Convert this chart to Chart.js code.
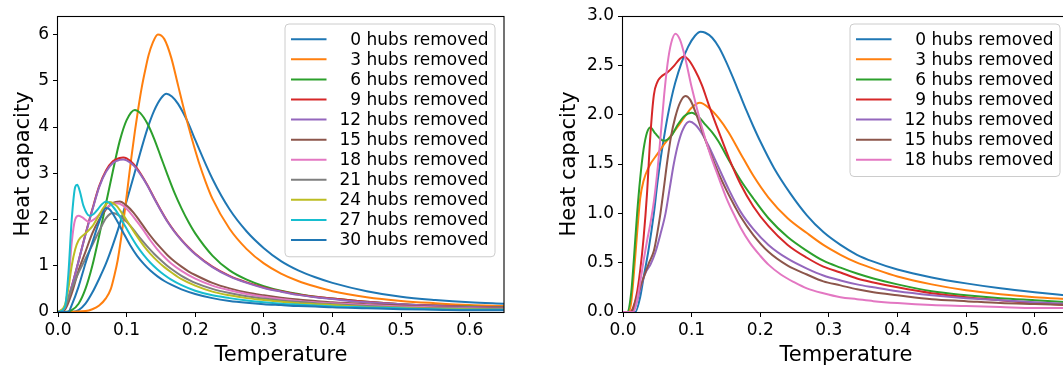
<!DOCTYPE html>
<html>
<head>
<meta charset="utf-8">
<script src="https://cdn.jsdelivr.net/npm/chart.js@4/dist/chart.umd.min.js"></script>
<style>
html, body { margin: 0; padding: 0; background: #fff; overflow: hidden; width: 1063px; height: 365px; }
canvas { position: absolute; top: 0; }
#c1 { left: 0; }
#c2 { left: 540px; }
</style>
</head>
<body>
<canvas id="c1" width="530" height="365"></canvas>
<canvas id="c2" width="540" height="365"></canvas>
<script>
// ---------- Tick labels / axis ----------
const X_TICK_STEP = 0.1;
const X_MAX = 0.65;
const LEFT_Y_MAX = 6.4;
const RIGHT_Y_MAX = 3.0;
const X_TITLE = 'Temperature';
const Y_TITLE = 'Heat capacity';

// ---------- Left panel: series labels ----------
const leftLabels = ['0 hubs removed','3 hubs removed','6 hubs removed','9 hubs removed','12 hubs removed','15 hubs removed','18 hubs removed','21 hubs removed','24 hubs removed','27 hubs removed','30 hubs removed'];

// ---------- Left panel: data (temperature, heat capacity) ----------
const L0_T = [0,0.02,0.03,0.04,0.05,0.06,0.07,0.08,0.09,0.1,0.11,0.12,0.13,0.14,0.15,0.158,0.166,0.175,0.19,0.2,0.225,0.25,0.275,0.3,0.325,0.35,0.375,0.4,0.45,0.5,0.55,0.6,0.65];
const L0_C = [0,0,0.04,0.18,0.42,0.72,1.05,1.45,1.9,2.4,2.92,3.45,3.95,4.35,4.62,4.72,4.66,4.5,4.08,3.72,2.88,2.22,1.74,1.38,1.1,0.9,0.75,0.63,0.45,0.33,0.26,0.21,0.18];

const L3_T = [0,0.04,0.05,0.06,0.07,0.077,0.082,0.087,0.092,0.097,0.102,0.107,0.112,0.117,0.122,0.127,0.132,0.138,0.1456,0.155,0.165,0.175,0.185,0.195,0.205,0.215,0.225,0.25,0.275,0.3,0.325,0.35,0.375,0.4,0.45,0.5,0.55,0.6,0.65];
const L3_C = [0,0.02,0.06,0.14,0.3,0.5,0.78,1.12,1.6,2.15,2.75,3.35,3.9,4.4,4.85,5.22,5.55,5.82,6.0,5.9,5.5,4.9,4.3,3.75,3.25,2.82,2.45,1.8,1.36,1.05,0.83,0.67,0.55,0.45,0.32,0.24,0.19,0.15,0.13];

const L6_T = [0,0.01,0.02,0.03,0.04,0.05,0.06,0.07,0.08,0.09,0.1,0.112,0.12,0.13,0.14,0.15,0.16,0.17,0.18,0.19,0.2,0.225,0.25,0.275,0.3,0.325,0.35,0.375,0.4,0.45,0.5,0.55,0.6,0.65];
const L6_C = [0,0,0.04,0.18,0.5,1.0,1.65,2.35,3.05,3.7,4.15,4.37,4.3,4.08,3.75,3.35,2.95,2.57,2.24,1.95,1.7,1.22,0.9,0.7,0.56,0.46,0.39,0.33,0.29,0.22,0.17,0.14,0.12,0.1];

const L9_T = [0,0.005,0.01,0.02,0.03,0.04,0.05,0.06,0.07,0.08,0.09,0.095,0.1,0.11,0.12,0.13,0.14,0.15,0.16,0.17,0.18,0.19,0.2,0.225,0.25,0.275,0.3,0.325,0.35,0.375,0.4,0.45,0.5,0.55,0.6,0.65];
const L9_C = [0,0,0.08,0.55,1.1,1.68,2.22,2.72,3.06,3.26,3.33,3.34,3.32,3.2,3.0,2.75,2.47,2.2,1.95,1.74,1.56,1.4,1.26,0.98,0.78,0.64,0.53,0.45,0.38,0.33,0.29,0.22,0.17,0.14,0.11,0.09];

const L12_T = [0,0.005,0.01,0.02,0.03,0.04,0.05,0.06,0.07,0.08,0.09,0.095,0.1,0.11,0.12,0.13,0.14,0.15,0.16,0.17,0.18,0.19,0.2,0.225,0.25,0.275,0.3,0.325,0.35,0.375,0.4,0.45,0.5,0.55,0.6,0.65];
const L12_C = [0,0,0.08,0.55,1.1,1.67,2.2,2.7,3.03,3.22,3.29,3.3,3.28,3.17,2.98,2.74,2.46,2.19,1.94,1.73,1.55,1.39,1.25,0.97,0.77,0.63,0.52,0.44,0.37,0.32,0.28,0.21,0.17,0.13,0.11,0.09];

const L15_T = [0,0.01,0.02,0.03,0.04,0.05,0.06,0.07,0.08,0.09,0.1,0.11,0.12,0.13,0.14,0.15,0.16,0.17,0.18,0.19,0.2,0.225,0.25,0.275,0.3,0.325,0.35,0.375,0.4,0.45,0.5,0.55,0.6,0.65];
const L15_C = [0,0.05,0.4,0.9,1.3,1.7,2.0,2.22,2.36,2.39,2.3,2.15,1.95,1.74,1.55,1.38,1.22,1.09,0.98,0.88,0.8,0.63,0.51,0.42,0.36,0.31,0.27,0.24,0.21,0.17,0.14,0.11,0.09,0.08];

const L18_T = [0,0.01,0.015,0.02,0.025,0.03,0.035,0.045,0.055,0.065,0.075,0.085,0.095,0.105,0.115,0.125,0.135,0.145,0.155,0.165,0.18,0.2,0.225,0.25,0.275,0.3,0.325,0.35,0.375,0.4,0.45,0.5,0.55,0.6,0.65];
const L18_C = [0,0.1,0.6,1.5,2.0,2.08,2.05,1.95,2.03,2.18,2.3,2.35,2.3,2.15,1.96,1.76,1.54,1.35,1.19,1.05,0.89,0.72,0.57,0.47,0.39,0.33,0.28,0.24,0.21,0.19,0.15,0.12,0.1,0.08,0.07];

const L21_T = [0,0.01,0.02,0.03,0.04,0.05,0.06,0.07,0.08,0.09,0.1,0.11,0.12,0.13,0.14,0.15,0.16,0.17,0.18,0.19,0.2,0.225,0.25,0.275,0.3,0.325,0.35,0.375,0.4,0.45,0.5,0.55,0.6,0.65];
const L21_C = [0,0.1,0.5,0.85,1.15,1.45,1.75,2.03,2.14,2.08,1.95,1.78,1.59,1.42,1.26,1.12,0.99,0.88,0.78,0.7,0.63,0.5,0.41,0.34,0.29,0.25,0.22,0.19,0.17,0.13,0.1,0.08,0.07,0.06];

const L24_T = [0,0.01,0.015,0.02,0.025,0.03,0.04,0.05,0.06,0.07,0.075,0.085,0.095,0.105,0.115,0.125,0.135,0.145,0.155,0.165,0.18,0.2,0.225,0.25,0.275,0.3,0.325,0.35,0.375,0.4,0.45,0.5,0.55,0.6,0.65];
const L24_C = [0,0.15,0.5,1.0,1.35,1.55,1.7,1.85,2.1,2.33,2.38,2.3,2.1,1.87,1.64,1.43,1.25,1.1,0.97,0.86,0.71,0.57,0.44,0.36,0.3,0.26,0.22,0.19,0.17,0.15,0.11,0.09,0.07,0.06,0.05];

const L27_T = [0,0.01,0.015,0.02,0.025,0.028,0.032,0.037,0.046,0.052,0.058,0.064,0.07,0.075,0.085,0.095,0.105,0.115,0.125,0.135,0.145,0.155,0.165,0.18,0.2,0.225,0.25,0.275,0.3,0.325,0.35,0.375,0.4,0.45,0.5,0.55,0.6,0.65];
const L27_C = [0,0.1,0.8,2.0,2.7,2.75,2.6,2.3,2.08,2.12,2.22,2.33,2.39,2.36,2.18,1.93,1.67,1.43,1.23,1.06,0.92,0.8,0.7,0.58,0.46,0.36,0.3,0.25,0.21,0.18,0.16,0.14,0.12,0.1,0.08,0.06,0.05,0.05];

const L30_T = [0,0.015,0.02,0.03,0.04,0.05,0.06,0.07,0.075,0.085,0.095,0.105,0.115,0.125,0.135,0.145,0.155,0.165,0.18,0.2,0.225,0.25,0.275,0.3,0.325,0.35,0.375,0.4,0.45,0.5,0.55,0.6,0.65];
const L30_C = [0,0,0.15,0.55,1.05,1.5,1.95,2.25,2.22,2.0,1.72,1.45,1.22,1.04,0.89,0.77,0.67,0.59,0.49,0.39,0.3,0.24,0.2,0.17,0.15,0.13,0.12,0.1,0.08,0.06,0.05,0.04,0.04];

// ---------- Right panel: series labels ----------
const rightLabels = ['0 hubs removed','3 hubs removed','6 hubs removed','9 hubs removed','12 hubs removed','15 hubs removed','18 hubs removed'];

// ---------- Right panel: data ----------
const R0_T = [0,0.018,0.025,0.03,0.037,0.045,0.05,0.055,0.06,0.065,0.07,0.076,0.086,0.095,0.105,0.113,0.12,0.13,0.14,0.15,0.16,0.17,0.18,0.19,0.2,0.22,0.244,0.268,0.292,0.317,0.341,0.365,0.4,0.45,0.5,0.55,0.6,0.65];
const R0_C = [0,0,0.15,0.35,0.62,1.0,1.3,1.56,1.78,1.98,2.15,2.32,2.54,2.69,2.8,2.84,2.83,2.78,2.68,2.54,2.38,2.21,2.04,1.88,1.73,1.46,1.2,0.98,0.81,0.68,0.58,0.51,0.43,0.35,0.29,0.24,0.2,0.165];

const R3_T = [0,0.008,0.012,0.016,0.02,0.025,0.03,0.0376,0.05,0.06,0.069,0.08,0.09,0.1,0.112,0.125,0.14,0.154,0.171,0.19,0.212,0.24,0.268,0.292,0.317,0.341,0.365,0.4,0.45,0.5,0.55,0.6,0.65];
const R3_C = [0,0,0.1,0.4,0.75,1.15,1.33,1.47,1.6,1.7,1.78,1.88,1.98,2.07,2.12,2.07,1.96,1.82,1.61,1.38,1.16,0.95,0.8,0.68,0.58,0.5,0.44,0.36,0.28,0.22,0.18,0.15,0.13];

const R6_T = [0,0.006,0.012,0.016,0.0206,0.025,0.03,0.035,0.04,0.047,0.055,0.06,0.07,0.08,0.09,0.1,0.11,0.12,0.13,0.139,0.155,0.171,0.19,0.212,0.24,0.268,0.292,0.317,0.341,0.365,0.4,0.45,0.5,0.55,0.6,0.65];
const R6_C = [0,0,0.2,0.55,1.0,1.35,1.65,1.82,1.87,1.81,1.75,1.735,1.78,1.9,1.99,2.02,1.98,1.9,1.82,1.73,1.53,1.34,1.15,0.95,0.76,0.62,0.52,0.45,0.39,0.34,0.28,0.21,0.17,0.14,0.12,0.1];

const R9_T = [0,0.01,0.015,0.02,0.025,0.03,0.035,0.04,0.045,0.05,0.055,0.065,0.075,0.082,0.0885,0.095,0.105,0.115,0.125,0.14,0.155,0.171,0.19,0.212,0.24,0.268,0.292,0.317,0.341,0.365,0.4,0.45,0.5,0.55,0.6,0.65];
const R9_C = [0,0,0.05,0.18,0.42,0.75,1.2,1.8,2.2,2.33,2.38,2.43,2.5,2.56,2.59,2.56,2.45,2.3,2.1,1.82,1.55,1.3,1.07,0.87,0.68,0.55,0.46,0.4,0.34,0.3,0.25,0.19,0.15,0.12,0.09,0.07];

const R12_T = [0,0.014,0.02,0.027,0.033,0.04,0.047,0.055,0.062,0.068,0.074,0.081,0.088,0.097,0.105,0.115,0.125,0.139,0.155,0.171,0.19,0.212,0.24,0.268,0.292,0.317,0.341,0.365,0.4,0.45,0.5,0.55,0.6,0.65];
const R12_C = [0,0,0.1,0.28,0.4,0.48,0.6,0.8,1.0,1.25,1.5,1.72,1.86,1.93,1.9,1.81,1.68,1.47,1.23,1.02,0.84,0.68,0.54,0.44,0.37,0.32,0.28,0.25,0.21,0.17,0.14,0.12,0.1,0.08];

const R15_T = [0,0.012,0.02,0.03,0.038,0.045,0.05,0.0546,0.06,0.064,0.07,0.076,0.083,0.091,0.098,0.107,0.115,0.125,0.139,0.151,0.163,0.171,0.19,0.212,0.24,0.268,0.292,0.317,0.341,0.365,0.4,0.45,0.5,0.55,0.6,0.65];
const R15_C = [0,0,0.15,0.35,0.5,0.62,0.8,1.0,1.28,1.5,1.78,1.97,2.12,2.19,2.15,2.0,1.84,1.65,1.41,1.23,1.07,0.97,0.78,0.61,0.47,0.38,0.31,0.27,0.23,0.2,0.17,0.13,0.11,0.09,0.08,0.07];

const R18_T = [0,0.015,0.02,0.025,0.03,0.035,0.04,0.045,0.05,0.055,0.06,0.065,0.07,0.0764,0.083,0.0905,0.1,0.1147,0.127,0.139,0.151,0.163,0.171,0.185,0.2,0.212,0.23,0.25,0.268,0.292,0.317,0.341,0.365,0.4,0.45,0.5,0.55,0.6,0.65];
const R18_C = [0,0,0.1,0.3,0.52,0.72,0.9,1.12,1.42,1.8,2.2,2.52,2.72,2.82,2.76,2.58,2.28,1.88,1.6,1.37,1.15,0.97,0.86,0.7,0.57,0.48,0.38,0.3,0.24,0.19,0.15,0.13,0.11,0.09,0.07,0.06,0.05,0.04,0.04];

// ---------- Colours (matplotlib tab10 cycle) ----------
const COLORS = ['#1f77b4','#ff7f0e','#2ca02c','#d62728','#9467bd','#8c564b','#e377c2','#7f7f7f','#bcbd22','#17becf','#1f77b4'];

const FONT = 'DejaVu Sans';

function pts(T, C) { return T.map((t, i) => ({ x: t, y: C[i] })); }

function buildDatasets(labels, series) {
  const n = series.length;
  return series.map((s, i) => ({
    label: labels[i],
    data: pts(s[0], s[1]),
    borderColor: COLORS[i],
    backgroundColor: COLORS[i],
    borderWidth: 2,
    pointRadius: 0,
    fill: false,
    cubicInterpolationMode: 'monotone',
    order: n - i
  }));
}

const framePlugin = {
  id: 'frameAndLegend',
  afterDatasetsDraw(chart) {
    const { ctx, chartArea: a } = chart;
    ctx.save();
    ctx.strokeStyle = '#000';
    ctx.lineWidth = 1.1;
    ctx.strokeRect(Math.round(a.left) - 0.5, Math.round(a.top) + 0.5, Math.round(a.right - a.left) + 0.5, Math.round(a.bottom - a.top));
    ctx.restore();
  },
  afterDraw(chart) {
    const { ctx, chartArea: a } = chart;
    const ds = chart.data.datasets;
    const n = ds.length;
    const rowH = 20.07;
    const boxW = 210;
    const boxR = a.right - 9;
    const boxL = boxR - boxW;
    const boxT = a.top + 8;
    const boxH = n * rowH + 12;
    ctx.save();
    const r = 4;
    ctx.beginPath();
    ctx.moveTo(boxL + r, boxT);
    ctx.lineTo(boxR - r, boxT);
    ctx.arcTo(boxR, boxT, boxR, boxT + r, r);
    ctx.lineTo(boxR, boxT + boxH - r);
    ctx.arcTo(boxR, boxT + boxH, boxR - r, boxT + boxH, r);
    ctx.lineTo(boxL + r, boxT + boxH);
    ctx.arcTo(boxL, boxT + boxH, boxL, boxT + boxH - r, r);
    ctx.lineTo(boxL, boxT + r);
    ctx.arcTo(boxL, boxT, boxL + r, boxT, r);
    ctx.closePath();
    ctx.fillStyle = 'rgba(255,255,255,0.8)';
    ctx.fill();
    ctx.strokeStyle = '#cccccc';
    ctx.lineWidth = 1;
    ctx.stroke();
    ctx.font = '17px "' + FONT + '"';
    ctx.textAlign = 'right';
    ctx.textBaseline = 'middle';
    for (let i = 0; i < n; i++) {
      const y = boxT + 15.3 + i * rowH;
      ctx.strokeStyle = ds[i].borderColor;
      ctx.lineWidth = 2;
      ctx.beginPath();
      ctx.moveTo(boxL + 6, y);
      ctx.lineTo(boxL + 41.5, y);
      ctx.stroke();
      ctx.fillStyle = '#000';
      ctx.fillText(ds[i].label, boxR - 6.5, y + 1);
    }
    ctx.restore();
  }
};

function makeChart(id, labels, series, opts) {
  return new Chart(document.getElementById(id), {
    type: 'line',
    data: { datasets: buildDatasets(labels, series) },
    options: {
      responsive: false,
      animation: false,
      devicePixelRatio: 1,
      layout: { padding: { top: 16, right: opts.rightPad, left: 0, bottom: 0 } },
      plugins: { legend: { display: false }, tooltip: { enabled: false } },
      scales: {
        x: {
          type: 'linear',
          min: 0,
          max: X_MAX,
          border: { display: false },
          grid: { display: true, drawOnChartArea: false, drawTicks: true, tickLength: 5, color: '#000', tickWidth: 1 },
          ticks: {
            stepSize: X_TICK_STEP,
            includeBounds: false,
            autoSkip: false,
            maxRotation: 0,
            padding: 3,
            color: '#000',
            font: { family: FONT, size: 17 },
            callback: v => Number(v).toFixed(1)
          },
          title: { display: true, text: X_TITLE, color: '#000', font: { family: FONT, size: 21 }, padding: { top: 0, bottom: -3 } },
          afterFit: s => { s.height = 53; }
        },
        y: {
          type: 'linear',
          min: 0,
          max: opts.yMax,
          border: { display: false },
          grid: { display: true, drawOnChartArea: false, drawTicks: true, tickLength: 5, color: '#000', tickWidth: 1 },
          ticks: {
            stepSize: opts.yStep,
            includeBounds: false,
            autoSkip: false,
            padding: 4,
            color: '#000',
            font: { family: FONT, size: 17 },
            callback: v => Number(v).toFixed(opts.yDec)
          },
          title: { display: true, text: Y_TITLE, color: '#000', font: { family: FONT, size: 21 }, padding: { top: opts.yTitlePad, bottom: 0 } },
          afterFit: s => { s.width = opts.yAxisW; }
        }
      }
    },
    plugins: [framePlugin]
  });
}

makeChart('c1', leftLabels, [
  [L0_T, L0_C], [L3_T, L3_C], [L6_T, L6_C], [L9_T, L9_C], [L12_T, L12_C], [L15_T, L15_C],
  [L18_T, L18_C], [L21_T, L21_C], [L24_T, L24_C], [L27_T, L27_C], [L30_T, L30_C]
], { yMax: LEFT_Y_MAX, yStep: 1, yDec: 0, yAxisW: 58, rightPad: 26, yTitlePad: 11 });

makeChart('c2', rightLabels, [
  [R0_T, R0_C], [R3_T, R3_C], [R6_T, R6_C], [R9_T, R9_C], [R12_T, R12_C], [R15_T, R15_C], [R18_T, R18_C]
], { yMax: RIGHT_Y_MAX, yStep: 0.5, yDec: 1, yAxisW: 83, rightPad: 11, yTitlePad: 17 });
</script>
</body>
</html>
